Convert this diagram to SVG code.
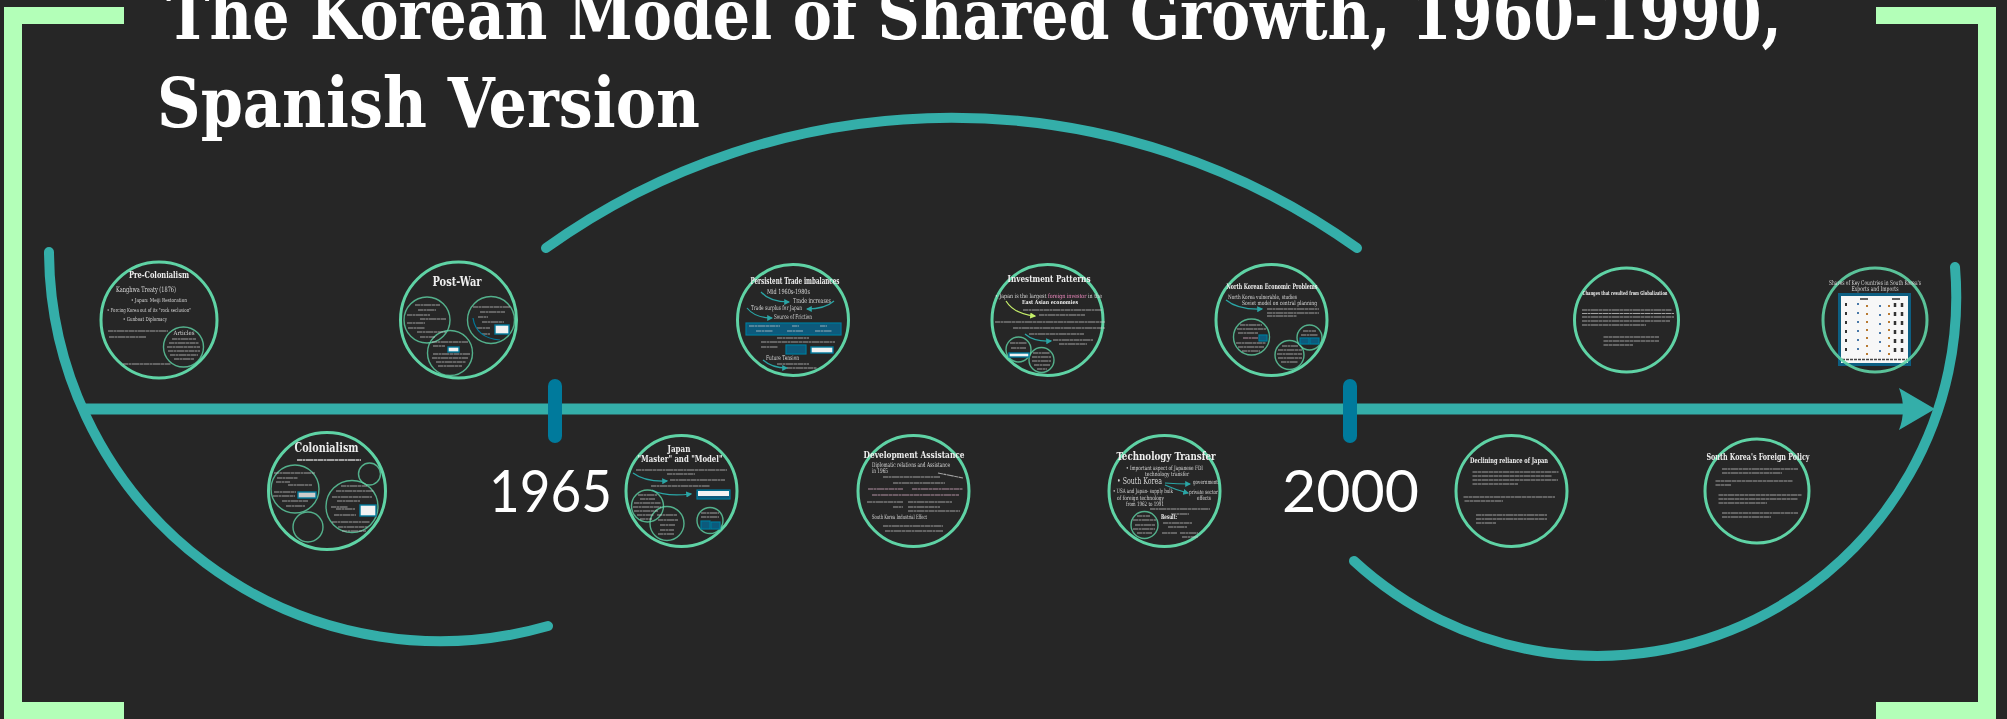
<svg xmlns="http://www.w3.org/2000/svg" width="2007" height="719" viewBox="0 0 2007 719">
<style>
.n{filter:url(#s)}
.c{fill:none;stroke:#5fd3a5;stroke-width:3}
.i{fill:none;stroke:#5fd3a5;stroke-width:1.4;opacity:.8}
.h{font-family:"DejaVu Serif Condensed","DejaVu Serif",serif;font-weight:700;fill:#eee;text-anchor:middle}
.b{font-family:"DejaVu Serif Condensed","DejaVu Serif",serif;fill:#d8d8d8}
.m{font-family:"DejaVu Serif Condensed","DejaVu Serif",serif;font-weight:700;fill:#fff;font-size:69px}
.y{font-family:Lato,"Liberation Sans",sans-serif;fill:#fff;font-size:59px}
.g{fill:none;stroke:#d0d0d0;stroke-width:1.2;stroke-dasharray:5 .5 3 .5 7 .5 4 .5;opacity:.72}
.p{stroke:#e9b7d2}
.l{fill:none;stroke:#34aea9;stroke-width:10;stroke-linecap:round}
.k{fill:none;stroke:#007a9c;stroke-width:14;stroke-linecap:round}
.w{fill:none;stroke:#2aa5a5;stroke-width:1.2;marker-end:url(#a)}
.x{fill:#f2f2f2;stroke:#007a9c;stroke-width:1.4}
.u{fill:#0b5a7c;stroke:#007a9c;stroke-width:1.2}
.f{fill:#b3ffb8}
</style>
<defs>
<filter id="s" x="-10%" y="-10%" width="120%" height="120%"><feGaussianBlur stdDeviation="0.55"/></filter>
<marker id="a" markerWidth="5" markerHeight="5" refX="4" refY="2.5" orient="auto"><path d="M0 0L5 2.5L0 5z" fill="#2aa5a5"/></marker>
<marker id="v" markerWidth="5" markerHeight="5" refX="4" refY="2.5" orient="auto"><path d="M0 0L5 2.5L0 5z" fill="#c6f06a"/></marker>
</defs>
<rect width="2007" height="719" fill="#262626"/>
<g id="frame">
<path class="f" d="M4 7H124V24H22V702H124V719H4z"/>
<path class="f" d="M1876 7H1996V719H1876V702H1978V24H1876z"/>
</g>
<g id="title">
<text class="m" x="166" y="39" textLength="1616" lengthAdjust="spacingAndGlyphs">The Korean Model of Shared Growth, 1960-1990,</text>
<text class="m" x="157" y="127" textLength="543" lengthAdjust="spacingAndGlyphs">Spanish Version</text>
</g>
<g id="connectors">
<path class="l" d="M49 252A391 391 0 0 0 548 626"/>
<path class="l" d="M546 248A696 696 0 0 1 1357 248"/>
<path class="l" d="M1354 561A359 359 0 0 0 1955 267"/>
<path d="M83 403.500H1905V414.500H83z" fill="#34aea9"/>
<path d="M1899 388L1935 409L1899 430Q1907 409 1899 388z" fill="#34aea9"/>
<path class="k" d="M555 386V436"/>
<path class="k" d="M1350 386V436"/>
</g>
<text id="y1965" class="y" x="489" y="512" textLength="123" lengthAdjust="spacingAndGlyphs">1965</text>
<text id="y2000" class="y" x="1282" y="512">2000</text>

<g id="pre-colonialism" class="n">
<circle class="c" cx="159" cy="320" r="58"/>
<text class="h" x="159" y="278" font-size="9.500" textLength="60" lengthAdjust="spacingAndGlyphs">Pre-Colonialism</text>
<text class="b" x="116" y="292" font-size="7.500" textLength="60" lengthAdjust="spacingAndGlyphs">Kanghwa Treaty (1876)</text>
<text class="b" x="131" y="302" font-size="5.500" textLength="56" lengthAdjust="spacingAndGlyphs">• Japan: Meiji Restoration</text>
<text class="b" x="107" y="312" font-size="5.500" textLength="84" lengthAdjust="spacingAndGlyphs">• Forcing Korea out of its "rock seclusion"</text>
<text class="b" x="123" y="321" font-size="5.500" textLength="44" lengthAdjust="spacingAndGlyphs">• Gunboat Diplomacy</text>
<path class="g" d="M108 331H168M109 337H146M123 364H171"/>
<circle class="i" cx="183.500" cy="347" r="20"/>
<text class="b" x="184" y="335" font-size="6" text-anchor="middle" textLength="21" lengthAdjust="spacingAndGlyphs">Articles</text>
<path class="g" d="M172 339H196M169 343H199M167 347H200M168 351H200M170 355H198M174 359H194"/>
</g>

<g id="post-war" class="n">
<circle class="c" cx="458.500" cy="320" r="58"/>
<text class="h" x="457" y="286" font-size="12" textLength="49" lengthAdjust="spacingAndGlyphs">Post-War</text>
<circle class="i" cx="427" cy="320" r="23"/>
<circle class="i" cx="491" cy="320" r="23.500"/>
<circle class="i" cx="450" cy="353" r="22.500"/>
<path class="g" d="M415 305H440M418 310H436M407 315H430M420 319H446M407 323H425M408 328H425M417 332H446M420 337H435"/>
<path class="g" d="M473 307H510M480 312H505M478 317H488M482 322H504M477 328H490M482 334H490"/>
<path d="M473 318Q476 338 500 340" fill="none" stroke="#007a9c" stroke-width="1.200"/>
<rect class="x" x="495" y="325" width="14" height="9"/>
<path class="g" d="M432 342H468M433 346H445M433 354H470M432 358H468M436 362H466M438 366H462"/>
<rect class="x" x="448" y="347" width="11" height="5"/>
</g>

<g id="colonialism" class="n">
<circle class="c" cx="327" cy="491" r="58.500"/>
<text class="h" x="326.500" y="452" font-size="12.500" textLength="64" lengthAdjust="spacingAndGlyphs">Colonialism</text>
<path class="g" d="M297 460H361" style="stroke-width:1.800"/>
<circle class="i" cx="295" cy="489" r="24"/>
<circle class="i" cx="352" cy="506.500" r="26"/>
<circle class="i" cx="369.500" cy="474" r="11"/>
<circle class="i" cx="308" cy="527" r="15"/>
<path class="g" d="M274 473H315M277 478H298M276 482H290M288 485H312M274 492H296M273 496H295M282 501H308M286 506H305"/>
<rect class="x" x="298" y="492" width="18" height="6" style="fill:#ccc"/>
<path class="g" d="M341 486H367M336 491H374M332 497H372M337 501H360M331 507H348M336 509H355M334 515H356M332 522H370M338 527H368M342 531H366"/>
<rect class="x" x="360" y="505" width="16" height="11"/>
</g>

<g id="japan" class="n">
<circle class="c" cx="681.500" cy="491" r="55.500"/>
<text class="h" x="679" y="452" font-size="10" textLength="23" lengthAdjust="spacingAndGlyphs">Japan</text>
<text class="h" x="680" y="462" font-size="10" textLength="85" lengthAdjust="spacingAndGlyphs">"Master" and "Model"</text>
<path class="g" d="M636 470H727M667 474H695M670 480H725"/>
<path class="w" d="M633 473Q645 482 667 481"/>
<path class="g" d="M651 486H710"/>
<path class="w" d="M652 490Q665 497 691 494"/>
<rect class="u" x="697" y="490" width="33" height="9"/>
<rect x="698" y="491" width="31" height="5" fill="#f2f2f2"/>
<circle class="i" cx="647.500" cy="506" r="16"/>
<circle class="i" cx="667" cy="523.500" r="17"/>
<circle class="i" cx="710" cy="520.500" r="13"/>
<path class="g" d="M638 495H657M640 499H655M634 503H661M633 507H661M634 511H658M637 515H654M640 519H652"/>
<path class="g" d="M657 515H677M658 520H678M660 525H675M660 530H674M658 534H674"/>
<path class="g" d="M701 513H719M701 517H719"/>
<rect class="u" x="701" y="521" width="9" height="8"/>
<rect class="u" x="711" y="522" width="9" height="7"/>
</g>

<g id="trade" class="n">
<circle class="c" cx="793" cy="320" r="55.500"/>
<text class="h" x="795" y="284" font-size="9" textLength="89" lengthAdjust="spacingAndGlyphs">Persistent Trade imbalances</text>
<text class="b" x="767" y="294" font-size="7" textLength="43" lengthAdjust="spacingAndGlyphs">Mid 1960s-1980s</text>
<text class="b" x="793" y="303" font-size="7" textLength="38" lengthAdjust="spacingAndGlyphs">Trade increases</text>
<text class="b" x="751" y="310" font-size="6.500" textLength="51" lengthAdjust="spacingAndGlyphs">Trade surplus for Japan</text>
<text class="b" x="774" y="319" font-size="6.500" textLength="38" lengthAdjust="spacingAndGlyphs">Source of Friction</text>
<path class="w" d="M761 292Q770 302 789 302"/>
<path class="w" d="M834 301Q825 309 807 309"/>
<path class="w" d="M747 308Q755 318 772 318"/>
<path class="w" d="M763 360Q772 368 787 368"/>
<rect class="u" x="746" y="323" width="95" height="12"/>
<path class="g" d="M749 326H780M792 326H799M820 326H827M756 331H773M787 331H803M815 331H832"/>
<path class="g" d="M777 338H809M761 342H835M761 347H778"/>
<rect class="u" x="786" y="345" width="20" height="9"/>
<rect class="x" x="811" y="347" width="22" height="6"/>
<text class="b" x="766" y="360" font-size="6.500" textLength="33" lengthAdjust="spacingAndGlyphs">Future Tension</text>
<path class="g" d="M777 364H809M787 368H817"/>
</g>

<g id="development" class="n">
<circle class="c" cx="913.500" cy="491" r="55.500"/>
<text class="h" x="914" y="458" font-size="9.500" textLength="101" lengthAdjust="spacingAndGlyphs">Development Assistance</text>
<text class="b" x="872" y="467" font-size="6.500" textLength="78" lengthAdjust="spacingAndGlyphs">Diplomatic relations and Assistance</text>
<text class="b" x="872" y="473" font-size="6.500" textLength="16" lengthAdjust="spacingAndGlyphs">in 1965</text>
<path class="g" d="M938 473L963 478M883 477H940M893 483H945"/>
<path class="g p" d="M868 489H903M912 489H963M872 495H959"/>
<path class="g" d="M867 502H903M893 507H903M908 502H952M908 507H940M908 511H960"/>
<text class="b" x="872" y="519" font-size="6" textLength="55" lengthAdjust="spacingAndGlyphs">South Korea Industrial Effect</text>
<path class="g" d="M883 526H943M885 531H943"/>
</g>

<g id="investment" class="n">
<circle class="c" cx="1047.500" cy="320" r="55.500"/>
<text class="h" x="1049" y="282" font-size="10" textLength="83" lengthAdjust="spacingAndGlyphs">Investment Patterns</text>
<text class="b" x="995" y="298" font-size="6" textLength="107" lengthAdjust="spacingAndGlyphs">• Japan is the largest <tspan fill="#f08ac0">foreign investor</tspan> in the</text>
<text class="h" x="1050" y="304" font-size="5.500" textLength="56" lengthAdjust="spacingAndGlyphs">East Asian economies</text>
<path d="M1006 301Q1014 314 1035 316" fill="none" stroke="#c6f06a" stroke-width="1.200" marker-end="url(#v)"/>
<path class="g" d="M1023 310H1102M1039 315H1085M995 322H1105M1013 328H1105M1029 334H1084M1053 340H1093M1059 344H1087"/>
<path class="w" d="M1025 334Q1034 342 1051 341"/>
<circle class="i" cx="1018.500" cy="349.500" r="12.500"/>
<circle class="i" cx="1041.500" cy="360" r="12.500"/>
<path class="g" d="M1010 343H1027M1011 348H1026"/>
<rect class="x" x="1009" y="353" width="20" height="4"/>
<path class="g" d="M1033 353H1050M1032 357H1051M1032 361H1051M1034 365H1050M1037 369H1047"/>
</g>

<g id="technology" class="n">
<circle class="c" cx="1164.500" cy="491" r="55.500"/>
<text class="h" x="1166" y="460" font-size="10.500" textLength="99" lengthAdjust="spacingAndGlyphs">Technology Transfer</text>
<text class="b" x="1126" y="470" font-size="6" textLength="77" lengthAdjust="spacingAndGlyphs">• Important aspect of Japanese FDI</text>
<text class="b" x="1167" y="476" font-size="6" text-anchor="middle" textLength="44" lengthAdjust="spacingAndGlyphs">technology transfer</text>
<text class="b" x="1117" y="484" font-size="8.500" textLength="45" lengthAdjust="spacingAndGlyphs">• South Korea</text>
<path class="w" d="M1165 483Q1177 484 1190 484"/>
<path class="w" d="M1165 485Q1176 490 1188 493"/>
<text class="b" x="1193" y="484" font-size="6" textLength="25" lengthAdjust="spacingAndGlyphs">government</text>
<text class="b" x="1189" y="494" font-size="6" textLength="29" lengthAdjust="spacingAndGlyphs">private sector</text>
<text class="b" x="1197" y="499.500" font-size="6" textLength="14" lengthAdjust="spacingAndGlyphs">effects</text>
<text class="b" x="1113" y="493" font-size="6" textLength="60" lengthAdjust="spacingAndGlyphs">• USA and Japan- supply bulk</text>
<text class="b" x="1117" y="499.500" font-size="6" textLength="47" lengthAdjust="spacingAndGlyphs">of foreign technology</text>
<text class="b" x="1126" y="506" font-size="6" textLength="38" lengthAdjust="spacingAndGlyphs">from 1962 to 1991</text>
<path class="g" d="M1150 509H1210M1171 514H1189"/>
<circle class="i" cx="1144.500" cy="525" r="13.500"/>
<path class="g" d="M1137 516H1150M1133 520H1156M1135 525H1155M1133 529H1155M1137 533H1152"/>
<text class="h" x="1169" y="519" font-size="6.500" textLength="16" lengthAdjust="spacingAndGlyphs">Result:</text>
<path class="g" d="M1163 523H1192M1168 527H1187M1162 533H1177M1180 533H1198M1182 537H1198"/>
</g>

<g id="north-korea" class="n">
<circle class="c" cx="1271.500" cy="320" r="55.500"/>
<text class="h" x="1272" y="289" font-size="7.500" textLength="91" lengthAdjust="spacingAndGlyphs">North Korean Economic Problems</text>
<text class="b" x="1228" y="299" font-size="6" textLength="69" lengthAdjust="spacingAndGlyphs">North Korea vulnerable, studies</text>
<text class="b" x="1242" y="305" font-size="6" textLength="75" lengthAdjust="spacingAndGlyphs">Soviet model on central planning</text>
<path class="w" d="M1226 300Q1238 310 1262 309"/>
<path class="g" d="M1267 309H1319M1267 313H1319M1267 316H1297"/>
<circle class="i" cx="1251.500" cy="337" r="18"/>
<circle class="i" cx="1289.500" cy="355" r="14.500"/>
<circle class="i" cx="1309.500" cy="337.500" r="12.500"/>
<path class="g" d="M1240 325H1262M1237 329H1266M1238 333H1258M1236 343H1266M1238 347H1264M1242 351H1260"/>
<path class="g p" d="M1243 338H1258"/>
<rect class="u" x="1259" y="335" width="8" height="6"/>
<path class="g" d="M1282 346H1298M1278 350H1302M1277 354H1302M1278 358H1302M1281 362H1298"/>
<path class="g" d="M1303 331H1316M1301 335H1318"/>
<rect class="u" x="1300" y="338" width="9" height="6"/>
<rect class="u" x="1310" y="338" width="9" height="6"/>
</g>

<g id="declining" class="n">
<circle class="c" cx="1511.500" cy="491" r="55.500"/>
<text class="h" x="1509" y="463" font-size="7.500" textLength="78" lengthAdjust="spacingAndGlyphs">Declining reliance of Japan</text>
<path class="g" d="M1472.500 472H1558.500M1472.500 476H1552M1472.500 480H1558M1472.500 484H1518M1463.500 497H1555M1464.500 501H1503M1476 515H1547M1476 519H1547M1476 523H1496"/>
</g>

<g id="changes" class="n">
<circle class="c" cx="1626.500" cy="320" r="52"/>
<text class="h" x="1625" y="295" font-size="5.500" textLength="85" lengthAdjust="spacingAndGlyphs">Changes that resulted from Globalization</text>
<path class="g" d="M1582 310H1672M1582 313.500H1674M1582 317H1674M1582 321H1670M1582 325H1646M1603.500 337H1659M1603.500 341H1659M1603.500 345H1633"/>
</g>

<g id="foreign-policy" class="n">
<circle class="c" cx="1757" cy="491" r="52"/>
<text class="h" x="1758" y="460" font-size="9.500" textLength="103" lengthAdjust="spacingAndGlyphs">South Korea's Foreign Policy</text>
<path class="g" d="M1722 469H1798M1722 473H1782M1715.500 481H1792.500M1715.500 485H1731M1718.500 495H1801.500M1718.500 499H1798M1718.500 503H1767M1722 513H1798M1722 517H1771"/>
</g>

<g id="shares" class="n">
<rect x="1838" y="293" width="73" height="73" fill="#0a5f82"/>
<rect x="1841" y="296" width="67" height="67" fill="#f7f7f7"/>
<path d="M1846 303V355" fill="none" stroke="#333" stroke-width="2" stroke-dasharray="3 6"/>
<path d="M1858 303V355M1880 305V355" fill="none" stroke="#4a78a8" stroke-width="2" stroke-dasharray="2 7"/>
<path d="M1867 305V355M1889 305V355" fill="none" stroke="#b87a30" stroke-width="2" stroke-dasharray="2 6"/>
<path d="M1895 303V355M1902 303V355" fill="none" stroke="#333" stroke-width="2.500" stroke-dasharray="4 5"/>
<path d="M1842 359.500H1907" fill="none" stroke="#444" stroke-width="1.500" stroke-dasharray="3 1"/>
<path d="M1860 299H1868M1892 299H1900" fill="none" stroke="#333" stroke-width="1.500"/>
<circle class="c" cx="1875" cy="320" r="52" opacity=".9"/>
<text class="b" x="1875" y="285" font-size="6.500" text-anchor="middle" textLength="92" lengthAdjust="spacingAndGlyphs">Shares of Key Countries in South Korea's</text>
<text class="b" x="1875" y="291" font-size="6.500" text-anchor="middle" textLength="47" lengthAdjust="spacingAndGlyphs">Exports and Imports</text>
</g>
</svg>
